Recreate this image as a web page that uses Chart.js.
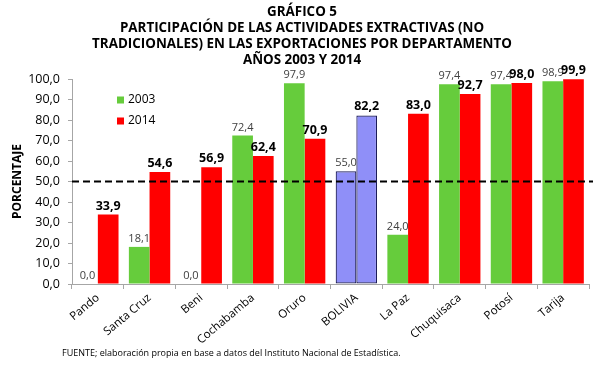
<!DOCTYPE html>
<html>
<head>
<meta charset="utf-8">
<script src="https://cdn.jsdelivr.net/npm/chart.js@4.4.1/dist/chart.umd.min.js"></script>
<style>
html,body{margin:0;padding:0;background:#fff;}
#wrap{position:relative;width:600px;height:367px;}
</style>
</head>
<body>
<div id="wrap"><canvas id="c" width="600" height="367"></canvas></div>
<script>
const categories = ["Pando","Santa Cruz","Beni","Cochabamba","Oruro","BOLIVIA","La Paz","Chuquisaca","Potosí","Tarija"];
const values2003 = [0.0, 18.1, 0.0, 72.4, 97.9, 55.0, 24.0, 97.4, 97.4, 98.9];
const values2014 = [33.9, 54.6, 56.9, 62.4, 70.9, 82.2, 83.0, 92.7, 98.0, 99.9];
const yTicks = [0,10,20,30,40,50,60,70,80,90,100];
const referenceLine = 50;
const titleLines = ["GRÁFICO 5","PARTICIPACIÓN DE LAS ACTIVIDADES EXTRACTIVAS (NO","TRADICIONALES) EN LAS EXPORTACIONES POR DEPARTAMENTO","AÑOS 2003 Y 2014"];
const footnote = "FUENTE; elaboración propia en base a datos del Instituto Nacional de Estadística.";

const GREEN = "#66cc3c", RED = "#ff0000", BLUE = "#8f8ff8", NAVY = "#1c1c5a";
const highlight = "BOLIVIA";
const fmt = v => v.toFixed(1).replace(".", ",");

const colors2003 = categories.map(c => c === highlight ? BLUE : GREEN);
const colors2014 = categories.map(c => c === highlight ? BLUE : RED);
const borders = categories.map(c => c === highlight ? 1.2 : 0);

const overlay = {
  id: "overlay",
  afterDatasetsDraw(chart) {
    const ctx = chart.ctx, ca = chart.chartArea, y = chart.scales.y;
    ctx.save();
    const yy = y.getPixelForValue(referenceLine);
    ctx.strokeStyle = "#000"; ctx.lineWidth = 2; ctx.setLineDash([7,4]);
    ctx.beginPath(); ctx.moveTo(ca.left, yy); ctx.lineTo(ca.right + 4, yy); ctx.stroke();
    ctx.setLineDash([]);
    ctx.textAlign = "center"; ctx.textBaseline = "alphabetic";
    chart.data.datasets.forEach((ds, di) => {
      const meta = chart.getDatasetMeta(di);
      meta.data.forEach((el, i) => {
        if (di === 0) { ctx.font = "11px 'Open Sans'"; ctx.fillStyle = "#404040"; }
        else { ctx.font = "bold 12.5px 'Open Sans'"; ctx.fillStyle = "#000"; }
        ctx.fillText(fmt(ds.data[i]), el.x, el.y - 5);
      });
    });
    const lg = [["2003", GREEN, 100], ["2014", RED, 121]];
    ctx.textAlign = "left"; ctx.textBaseline = "middle"; ctx.font = "12px 'Open Sans'";
    lg.forEach(([t, c, cy]) => {
      ctx.fillStyle = c; ctx.fillRect(117, cy - 3.5, 7, 7);
      ctx.fillStyle = "#000"; ctx.fillText(t, 128, cy);
    });
    ctx.restore();
  },
  afterDraw(chart) {
    const ctx = chart.ctx;
    ctx.save();
    ctx.fillStyle = "#000"; ctx.textAlign = "center"; ctx.textBaseline = "middle";
    ctx.font = "bold 13.4px 'Open Sans'";
    titleLines.forEach((t, i) => ctx.fillText(t, 302, 12 + i * 16.2));
    ctx.textAlign = "left"; ctx.font = "9px 'Open Sans'";
    ctx.fillText(footnote, 62, 353);
    ctx.restore();
  }
};

new Chart(document.getElementById("c"), {
  type: "bar",
  data: {
    labels: categories,
    datasets: [
      { label: "2003", data: values2003, backgroundColor: colors2003, borderColor: NAVY, borderWidth: borders, borderSkipped: false },
      { label: "2014", data: values2014, backgroundColor: colors2014, borderColor: NAVY, borderWidth: borders, borderSkipped: false }
    ]
  },
  options: {
    responsive: false,
    animation: false,
    events: [],
    layout: { padding: { top: 79, right: 11, left: 0, bottom: 0 } },
    plugins: { legend: { display: false }, tooltip: { enabled: false }, title: { display: false } },
    datasets: { bar: { categoryPercentage: 0.8, barPercentage: 1.0 } },
    scales: {
      x: {
        grid: { display: true, drawOnChartArea: false, drawTicks: true, tickLength: 5, color: "#a6a6a6", offset: true },
        border: { display: true, color: "#a6a6a6" },
        ticks: { color: "#000", font: { family: "'Open Sans'", size: 11.5 }, maxRotation: 40, minRotation: 40, padding: 2 },
        afterFit(s) { s.height = 83; }
      },
      y: {
        min: 0, max: 100,
        afterBuildTicks(s) { s.ticks = yTicks.map(v => ({ value: v })); },
        grid: { display: true, drawOnChartArea: false, drawTicks: true, tickLength: 4, color: "#a6a6a6" },
        border: { display: true, color: "#a6a6a6" },
        ticks: { color: "#000", font: { family: "'Open Sans'", size: 12.5 }, padding: 8, callback: v => fmt(v) },
        title: { display: true, text: "PORCENTAJE", color: "#000", font: { family: "'Open Sans'", size: 12, weight: "bold" }, padding: { top: 10, bottom: 0 } },
        afterFit(s) { s.width = 72; }
      }
    }
  },
  plugins: [overlay]
});
</script>
</body>
</html>
